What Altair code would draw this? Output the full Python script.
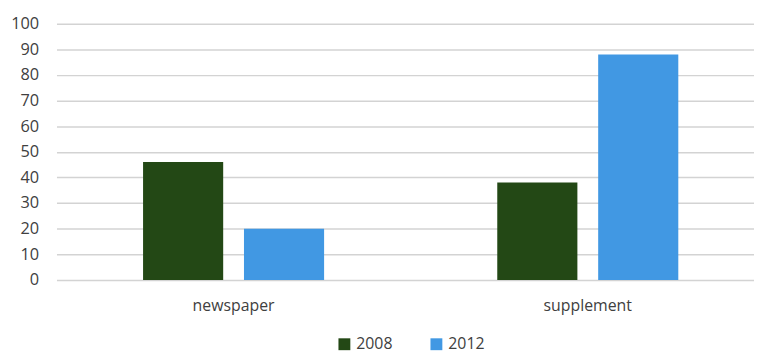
import altair as alt
import pandas as pd

categories = ["newspaper", "newspaper", "supplement", "supplement"]
years = ["2008", "2012", "2008", "2012"]
values = [46, 20, 38, 88]

year_domain = ["2008", "2012"]
year_colors = ["#234815", "#4198e3"]

df = pd.DataFrame({"category": categories, "year": years, "value": values})

chart = alt.Chart(df).mark_bar().encode(
    x=alt.X("category:N", title=None,
            scale=alt.Scale(paddingInner=0, paddingOuter=0),
            axis=alt.Axis(labelAngle=0, ticks=False, domain=False, labelPadding=18,
                          labelFontSize=16, labelColor="#404040", labelFont="Open Sans")),
    xOffset=alt.XOffset("year:N", scale=alt.Scale(paddingInner=0.206, paddingOuter=0.858)),
    y=alt.Y("value:Q", title=None,
            scale=alt.Scale(domain=[0, 100]),
            axis=alt.Axis(values=list(range(0, 101, 10)), ticks=False, domain=False,
                          labelPadding=18, labelFontSize=16.5, labelColor="#404040",
                          labelFont="Open Sans", gridColor="#d3d3d3", gridWidth=1.5)),
    color=alt.Color("year:N", title=None,
                    scale=alt.Scale(domain=year_domain, range=year_colors),
                    legend=alt.Legend(orient="none", direction="horizontal",
                                      legendX=283, legendY=316,
                                      symbolType="square", symbolSize=144,
                                      symbolStrokeWidth=0, labelFontSize=16,
                                      labelFont="Open Sans", labelColor="#404040",
                                      labelOffset=4, columnPadding=36)),
).properties(
    width=716, height=259,
    autosize=alt.AutoSizeParams(type="none"),
    padding={"left": 49, "top": 14, "right": -11, "bottom": 72},
    background="white",
).configure_view(stroke=None)

chart.save("out.html", embed_options={"renderer": "svg", "actions": False})
